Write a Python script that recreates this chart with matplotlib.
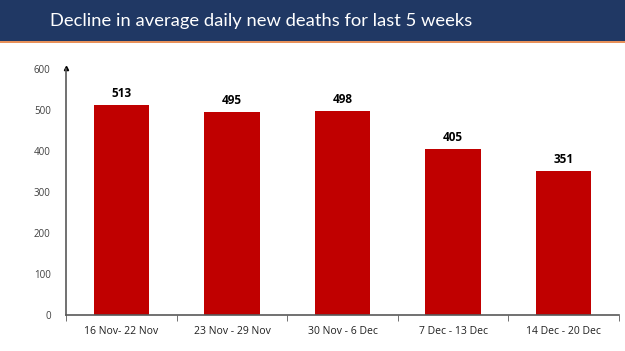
import matplotlib.pyplot as plt
from matplotlib.patches import Rectangle

weeks = ["16 Nov- 22 Nov", "23 Nov - 29 Nov", "30 Nov - 6 Dec", "7 Dec - 13 Dec", "14 Dec - 20 Dec"]
deaths = [513, 495, 498, 405, 351]
y_ticks = [0, 100, 200, 300, 400, 500, 600]
title = "Decline in average daily new deaths for last 5 weeks"

fig = plt.figure(figsize=(6.25, 3.51), dpi=100)
fig.patch.set_facecolor("white")

# header band
fig.patches.append(Rectangle((0, 1 - 41 / 351), 1, 41 / 351, transform=fig.transFigure,
                             facecolor="#203864", edgecolor="none", zorder=0))
fig.patches.append(Rectangle((0, 1 - 43 / 351), 1, 2 / 351, transform=fig.transFigure,
                             facecolor="#E8915A", edgecolor="none", zorder=0))
fig.text(261 / 625, 1 - 21 / 351, title, color="white", fontsize=13.2,
         family="Lato", ha="center", va="center")

ax = fig.add_axes([66 / 625, 36 / 351, 553 / 625, 246 / 351])
x = list(range(len(weeks)))
ax.bar(x, deaths, width=0.5, color="#C00000")
for xi, v in zip(x, deaths):
    ax.text(xi, v + 12, str(v), ha="center", va="bottom", fontsize=8.5,
            fontweight="bold", family="Open Sans", color="black")

ax.set_xlim(-0.5, len(weeks) - 0.5)
ax.set_ylim(0, 600)
ax.set_yticks(y_ticks)
ax.set_yticklabels([str(t) for t in y_ticks], fontsize=7, family="Open Sans", color="#404040")
ax.tick_params(axis="y", length=0, pad=11)
ax.set_xticks(x)
ax.set_xticklabels(weeks, fontsize=7.5, family="Open Sans", color="#202020")
ax.tick_params(axis="x", length=0, pad=8)
# boundary ticks between categories
ax.set_xticks([i - 0.5 for i in range(len(weeks) + 1)], minor=True)
ax.tick_params(axis="x", which="minor", length=4, direction="out", color="#595959")

for s in ["top", "right"]:
    ax.spines[s].set_visible(False)
for s in ["left", "bottom"]:
    ax.spines[s].set_color("#595959")
    ax.spines[s].set_linewidth(1.2)
ax.plot(0, 1.005, "^", transform=ax.transAxes, color="black", markersize=3, clip_on=False)

fig.savefig("out.png", dpi=100)
